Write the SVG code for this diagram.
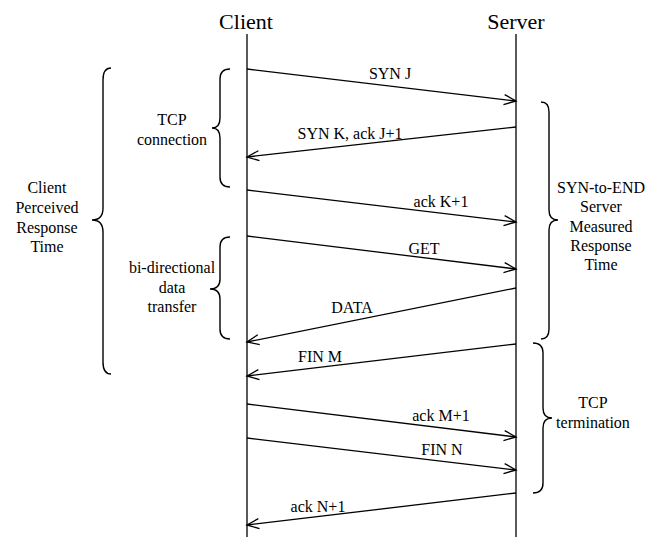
<svg xmlns="http://www.w3.org/2000/svg" width="649" height="537" viewBox="0 0 649 537">
<style>
.h{font-size:22px}
.t{font-size:16px}
.ln{stroke:#000;stroke-width:1.3;fill:none}
.br{stroke:#000;stroke-width:1.4;fill:none}
</style>
<defs>
<marker id="ah" markerUnits="userSpaceOnUse" markerWidth="16" markerHeight="14" refX="13" refY="6" orient="auto">
<path d="M1,1 L13,6 L1,11" fill="none" stroke="#000" stroke-width="1.3"/>
</marker>
</defs>
<rect width="649" height="537" fill="#fff"/>
<g font-family="'Liberation Serif', 'DejaVu Serif', serif" text-anchor="middle" fill="#000">
<g id="client">
<text class="h" x="246" y="29">Client</text>
<line class="ln" x1="247" y1="34" x2="247" y2="537"/>
</g>
<g id="server">
<text class="h" x="516" y="29">Server</text>
<line class="ln" x1="516" y1="34" x2="516" y2="537"/>
</g>
<g id="connectors">
<line class="ln" x1="247" y1="69" x2="516" y2="101" marker-end="url(#ah)"/>
<text class="t" x="390" y="79">SYN J</text>
<line class="ln" x1="516" y1="127" x2="247" y2="157" marker-end="url(#ah)"/>
<text class="t" x="350" y="139">SYN K, ack J+1</text>
<line class="ln" x1="247" y1="190" x2="516" y2="222" marker-end="url(#ah)"/>
<text class="t" x="441" y="207">ack K+1</text>
<line class="ln" x1="247" y1="236" x2="516" y2="269" marker-end="url(#ah)"/>
<text class="t" x="424" y="254">GET</text>
<line class="ln" x1="516" y1="288" x2="247" y2="342" marker-end="url(#ah)"/>
<text class="t" x="352" y="313">DATA</text>
<line class="ln" x1="516" y1="344" x2="247" y2="376" marker-end="url(#ah)"/>
<text class="t" x="320" y="362">FIN M</text>
<line class="ln" x1="247" y1="404" x2="516" y2="437" marker-end="url(#ah)"/>
<text class="t" x="441" y="421">ack M+1</text>
<line class="ln" x1="247" y1="438" x2="516" y2="470" marker-end="url(#ah)"/>
<text class="t" x="442" y="455">FIN N</text>
<line class="ln" x1="516" y1="493" x2="247" y2="525" marker-end="url(#ah)"/>
<text class="t" x="318" y="512">ack N+1</text>
</g>
<g id="client-perceived">
<path class="br" d="M111,68 Q103,68 103,80 L103,208 Q103,220 92,220 Q103,220 103,232 L103,362 Q103,374 111,374"/>
<text class="t" x="47" y="193">Client</text>
<text class="t" x="47" y="213">Perceived</text>
<text class="t" x="47" y="233">Response</text>
<text class="t" x="47" y="252">Time</text>
</g>
<g id="tcp-connection">
<path class="br" d="M230,69 Q220,69 220,79 L220,118 Q220,128 212,128 Q220,128 220,138 L220,177 Q220,187 230,187"/>
<text class="t" x="172" y="125">TCP</text>
<text class="t" x="172" y="145">connection</text>
</g>
<g id="data-transfer">
<path class="br" d="M230,237 Q220,237 220,247 L220,279 Q220,289 210,289 Q220,289 220,299 L220,329 Q220,339 230,339"/>
<text class="t" x="172" y="273">bi-directional</text>
<text class="t" x="172" y="293">data</text>
<text class="t" x="172" y="312">transfer</text>
</g>
<g id="server-measured">
<path class="br" d="M541,102 Q549,102 549,112 L549,210 Q549,220 558,220 Q549,220 549,230 L549,329 Q549,339 541,339"/>
<text class="t" x="601" y="193">SYN-to-END</text>
<text class="t" x="601" y="212">Server</text>
<text class="t" x="601" y="232">Measured</text>
<text class="t" x="601" y="251">Response</text>
<text class="t" x="601" y="270">Time</text>
</g>
<g id="tcp-termination">
<path class="br" d="M533,343 Q543,343 543,353 L543,408 Q543,418 552,418 Q543,418 543,428 L543,483 Q543,493 533,493"/>
<text class="t" x="593" y="408">TCP</text>
<text class="t" x="593" y="428">termination</text>
</g>
</g>
</svg>
